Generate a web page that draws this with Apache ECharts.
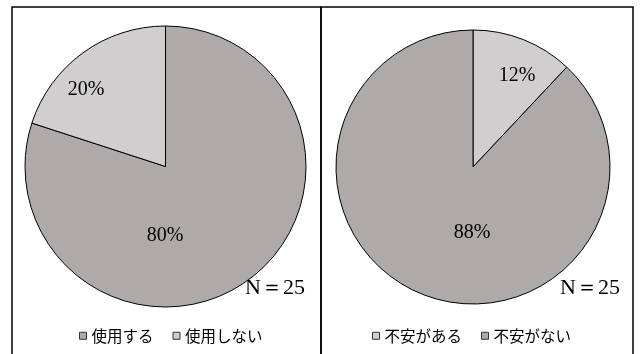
<!DOCTYPE html>
<html><head><meta charset="utf-8">
<script src="https://cdn.jsdelivr.net/npm/echarts@6/dist/echarts.min.js"></script>
<style>html,body{margin:0;padding:0;background:#fff}#c{width:640px;height:354px}</style>
</head><body><div id="c"></div>
<script>
const leftCategories = ['使用する', '使用しない'];
const leftValues = [80, 20];
const rightCategories = ['不安がある', '不安がない'];
const rightValues = [12, 88];
const sampleNote = 'N＝25';

const DARK = '#aeaaaa', LIGHT = '#d0cece';
const leftColors = [DARK, LIGHT];
const rightColors = [LIGHT, DARK];
const leftLabelPos = [[165, 236], [86, 90]];
const rightLabelPos = [[517, 76], [472, 233]];

const chart = echarts.init(document.getElementById('c'));
function pieSeries(cats, vals, colors, center, radius, labelPos) {
  return {
    type: 'pie', center: center, radius: radius, startAngle: 90, clockwise: true,
    animation: false, silent: true,
    data: cats.map((n, i) => ({ name: n, value: vals[i], itemStyle: { color: colors[i] } })),
    itemStyle: { borderColor: '#000', borderWidth: 1 },
    label: { show: true, position: 'inside', formatter: p => p.value + '%',
      fontFamily: 'Liberation Serif', fontSize: 20, color: '#000' },
    labelLine: { show: false },
    labelLayout: p => ({ x: labelPos[p.dataIndex][0], y: labelPos[p.dataIndex][1], align: 'center', verticalAlign: 'middle' })
  };
}
const legendBase = {
  orient: 'horizontal', top: 323, icon: 'rect', itemWidth: 7, itemHeight: 7, itemGap: 19,
  textStyle: { fontFamily: 'Noto Sans CJK JP', fontSize: 15.5, color: '#000' },
  itemStyle: { borderColor: '#333', borderWidth: 1 }, selectedMode: false
};
chart.setOption({
  animation: false,
  legend: [
    Object.assign({}, legendBase, { data: leftCategories, left: 74 }),
    Object.assign({}, legendBase, { data: rightCategories, left: 367 })
  ],
  series: [
    pieSeries(leftCategories, leftValues, leftColors, [165.5, 166.5], 140.5, leftLabelPos),
    pieSeries(rightCategories, rightValues, rightColors, [473, 167], 137, rightLabelPos)
  ],
  graphic: [
    { type: 'rect', shape: { x: 12, y: 7, width: 309, height: 360 }, style: { fill: 'none', stroke: '#000', lineWidth: 1.5 }, z: 10 },
    { type: 'rect', shape: { x: 321, y: 7, width: 312, height: 360 }, style: { fill: 'none', stroke: '#000', lineWidth: 1.5 }, z: 10 },
    { type: 'text', x: 305, y: 288, style: { text: sampleNote, fontFamily: 'Liberation Serif', fontSize: 22, fill: '#000', align: 'right', verticalAlign: 'middle' } },
    { type: 'text', x: 620, y: 288, style: { text: sampleNote, fontFamily: 'Liberation Serif', fontSize: 22, fill: '#000', align: 'right', verticalAlign: 'middle' } }
  ]
});
</script></body></html>
